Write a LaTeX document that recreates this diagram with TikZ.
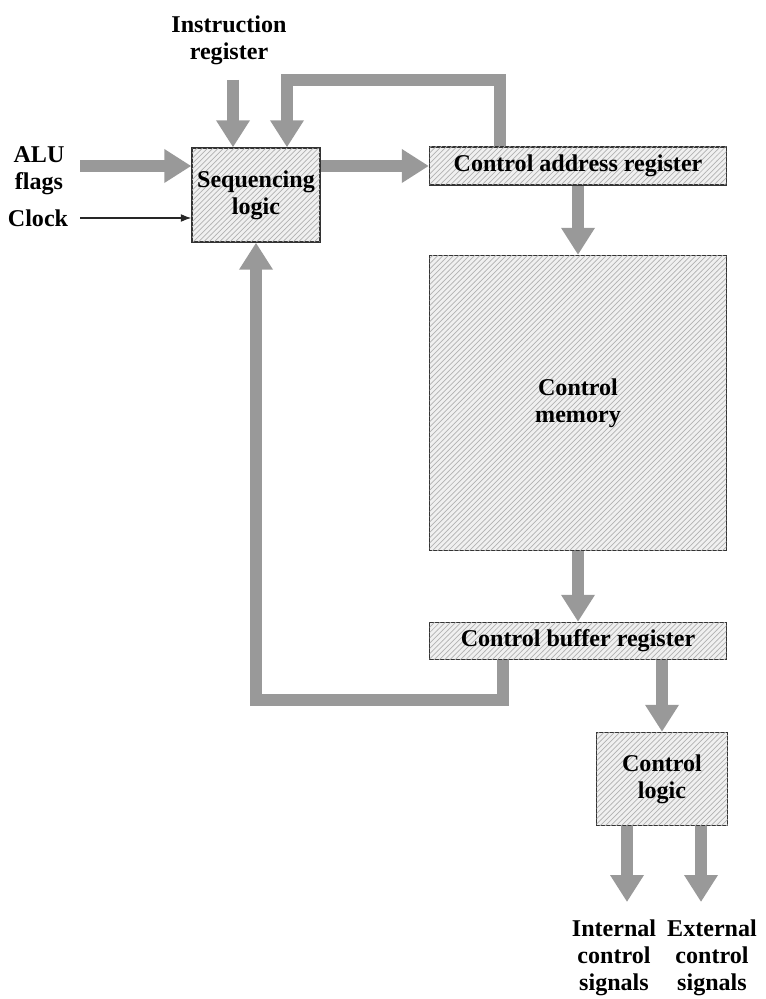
\documentclass[tikz,border=0pt]{standalone}
\usepackage{fontspec}
\setmainfont{Liberation Serif}
\usepackage{tikz}
\usetikzlibrary{arrows.meta, patterns, positioning, calc}

\begin{document}
\begin{tikzpicture}[x=0.02cm, y=-0.02cm,
    font=\fontsize{13.7}{15.3}\selectfont\bfseries,
    block/.style={rectangle, draw=black!80, line width=0.8pt, fill=gray!12,
        postaction={pattern=north east lines, pattern color=gray!60},
        text centered, align=center, inner sep=0pt},
    label/.style={align=center, inner sep=0pt},
    bus/.style={draw=gray!80, line width=0.24cm, line cap=butt,
        -{Triangle[width=0.64cm, length=0.54cm]}},
    plain/.style={draw=black!85, line width=0.6pt, -{Latex[length=6pt, width=4.5pt]}}]
    \useasboundingbox (0,0) rectangle (765,999);

    \node [block, minimum width=2.56cm, minimum height=1.88cm] (seq) at (256,195) {Sequencing\\logic};
    \node [block, minimum width=5.94cm, minimum height=0.76cm] (car) at (578,166) {Control address register};
    \node [block, minimum width=5.94cm, minimum height=5.9cm] (cm) at (578,403) {Control\\memory};
    \node [block, minimum width=5.94cm, minimum height=0.74cm] (cbr) at (578,641) {Control buffer register};
    \node [block, minimum width=2.62cm, minimum height=1.86cm] (cl) at (662,779) {Control\\logic};

    \node [label] (ir) at (229,40) {Instruction\\register};
    \node [label] (alu) at (39,171) {ALU\\flags};
    \node [label] (clk) at (38,218) {Clock};
    \node [label] (int) at (614,958) {Internal\\control\\signals};
    \node [label] (ext) at (712,958) {External\\control\\signals};

    % free ends and bends
    \coordinate (irin) at (233,80);
    \coordinate (aluin) at (80,166);
    \coordinate (fb1) at (500,80);
    \coordinate (fb2) at (503,700);
    \coordinate (intout) at (627,902);
    \coordinate (extout) at (701,902);

    \draw [bus] (irin) -- (irin |- seq.north);
    \draw [bus] (car.north -| fb1) -- (fb1) -| ([xshift=0.62cm]seq.north);
    \draw [bus] (aluin) -- (aluin -| seq.west);
    \draw [plain] ([xshift=0.24cm]clk.east) -- (clk -| seq.west);
    \draw [bus] (aluin -| seq.east) -- (aluin -| car.west);
    \draw [bus] (car.south) -- (cm.north);
    \draw [bus] (cm.south) -- (cbr.north);
    \draw [bus] (cbr.south -| fb2) -- (fb2) -| (seq.south);
    \draw [bus] (cbr.south -| cl.north) -- (cl.north);
    \draw [bus] (cl.south -| intout) -- (intout);
    \draw [bus] (cl.south -| extout) -- (extout);
\end{tikzpicture}
\end{document}
